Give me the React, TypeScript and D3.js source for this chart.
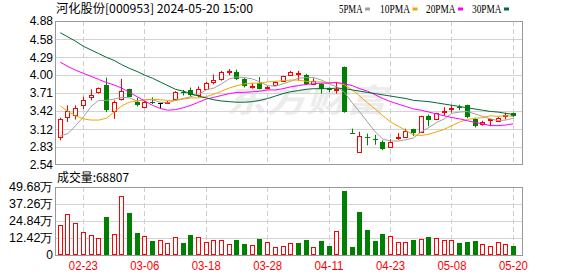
import React from 'react';
import * as d3 from 'd3';

const dates = [
  '02-20','02-21','02-22','02-23','02-26','02-27','02-28','02-29',
  '03-01','03-04','03-05','03-06','03-07','03-08','03-11','03-12','03-13','03-14','03-15','03-18','03-19','03-20','03-21','03-22','03-25','03-26','03-27','03-28','03-29',
  '04-01','04-02','04-03','04-08','04-09','04-10','04-11','04-12','04-15','04-16','04-17','04-18','04-19','04-22','04-23','04-24','04-25','04-26','04-29','04-30',
  '05-06','05-07','05-08','05-09','05-10','05-13','05-14','05-15','05-16','05-17','05-20'
];

const opens = [3.00,3.32,3.35,3.51,3.65,3.72,3.84,3.41,3.61,3.77,3.57,3.49,3.57,3.55,3.54,3.61,3.73,3.76,3.67,3.78,3.89,3.93,4.05,4.05,3.94,3.82,3.87,3.79,3.84,3.91,4.00,4.02,4.01,3.86,3.86,3.79,3.76,4.13,3.06,2.75,3.00,2.97,2.91,2.83,2.99,3.00,3.12,3.07,3.34,3.29,3.41,3.46,3.49,3.51,3.28,3.20,3.27,3.26,3.33,3.39];
const highs = [3.31,3.51,3.51,3.65,3.77,3.80,3.96,3.59,3.94,3.78,3.63,3.58,3.64,3.55,3.58,3.74,3.76,3.80,3.82,3.89,4.01,4.07,4.10,4.09,3.96,3.87,3.97,3.83,3.90,3.99,4.07,4.07,4.02,3.95,3.87,3.80,3.89,4.14,3.13,3.08,3.05,3.03,2.94,2.96,3.06,3.13,3.13,3.34,3.36,3.39,3.48,3.51,3.52,3.52,3.30,3.26,3.29,3.32,3.39,3.39];
const lows = [2.94,3.24,3.28,3.45,3.59,3.70,3.40,3.29,3.59,3.64,3.49,3.46,3.53,3.46,3.53,3.59,3.67,3.65,3.64,3.77,3.85,3.91,4.00,3.92,3.80,3.78,3.77,3.77,3.83,3.90,3.99,3.91,3.84,3.85,3.70,3.72,3.70,3.39,3.06,2.75,2.86,2.87,2.78,2.82,2.95,2.99,3.01,3.06,3.17,3.27,3.34,3.39,3.43,3.30,3.15,3.18,3.17,3.24,3.28,3.32];
const closes = [3.28,3.41,3.47,3.60,3.68,3.79,3.43,3.56,3.74,3.65,3.51,3.56,3.55,3.55,3.57,3.73,3.72,3.68,3.77,3.88,3.92,4.05,4.06,3.94,3.82,3.83,3.78,3.80,3.89,3.98,4.05,4.03,3.85,3.91,3.77,3.76,3.77,3.40,3.06,3.01,2.98,2.95,2.80,2.92,3.00,3.10,3.06,3.34,3.27,3.38,3.42,3.47,3.46,3.32,3.17,3.24,3.28,3.30,3.35,3.33];
const volumes = [218000,298000,233000,167000,143000,124000,279000,153000,429000,308000,162000,138000,104000,109000,89000,131000,87000,145000,131000,95000,109000,109000,80000,109000,80000,73000,116000,95000,58000,65000,85000,87000,109000,56000,102000,65000,175000,466000,58000,313000,182000,102000,153000,136000,95000,95000,109000,114000,131000,121000,109000,109000,87000,95000,102000,78000,65000,92000,78000,68807];

const ma5 = [3.01,3.05,3.18,3.32,3.49,3.59,3.59,3.61,3.64,3.63,3.58,3.60,3.60,3.56,3.55,3.59,3.62,3.65,3.69,3.76,3.79,3.86,3.94,3.97,3.96,3.94,3.89,3.83,3.82,3.86,3.90,3.95,3.96,3.96,3.92,3.86,3.81,3.72,3.55,3.40,3.24,3.08,2.96,2.93,2.93,2.95,2.98,3.08,3.15,3.23,3.29,3.38,3.40,3.41,3.37,3.33,3.29,3.26,3.27,3.30];
const ma10 = [3.50,3.41,3.34,3.29,3.27,3.27,3.30,3.40,3.50,3.56,3.58,3.60,3.61,3.60,3.59,3.59,3.61,3.63,3.63,3.65,3.69,3.74,3.79,3.83,3.86,3.87,3.87,3.89,3.90,3.91,3.92,3.92,3.90,3.89,3.89,3.88,3.88,3.84,3.76,3.66,3.55,3.45,3.34,3.24,3.17,3.10,3.03,3.02,3.04,3.08,3.12,3.18,3.24,3.28,3.30,3.31,3.34,3.33,3.34,3.33];
const ma20 = [4.21,4.14,4.08,4.03,3.98,3.93,3.88,3.84,3.79,3.72,3.65,3.58,3.51,3.46,3.43,3.44,3.47,3.51,3.56,3.61,3.64,3.67,3.70,3.72,3.72,3.73,3.74,3.76,3.76,3.78,3.81,3.83,3.85,3.86,3.87,3.87,3.88,3.86,3.83,3.78,3.74,3.68,3.62,3.57,3.53,3.49,3.45,3.43,3.40,3.37,3.34,3.31,3.29,3.26,3.23,3.21,3.18,3.18,3.19,3.21];
const ma30 = [4.69,4.62,4.55,4.47,4.41,4.35,4.29,4.24,4.17,4.11,4.06,4.00,3.95,3.89,3.83,3.77,3.74,3.70,3.66,3.63,3.60,3.58,3.57,3.56,3.56,3.57,3.59,3.62,3.66,3.70,3.73,3.75,3.77,3.78,3.78,3.78,3.79,3.78,3.76,3.74,3.72,3.70,3.68,3.66,3.64,3.62,3.59,3.58,3.57,3.55,3.53,3.51,3.49,3.47,3.45,3.43,3.41,3.40,3.38,3.36];

const priceTicks = [4.88, 4.58, 4.29, 4.00, 3.71, 3.42, 3.12, 2.83, 2.54];
const volTicks = [0, 124200, 248400, 372600, 496800];
const volTickLabels = ['0', '12.42万', '24.84万', '37.26万', '49.68万'];
const xTickDates = ['02-23', '03-06', '03-18', '03-28', '04-11', '04-23', '05-08', '05-20'];
const maNames = ['5PMA', '10PMA', '20PMA', '30PMA'];
const maColors = ['#a0a0a0', '#f5a500', '#ff00ff', '#006b35'];
const title = '河化股份[000953] 2024-05-20 15:00';
const volTitle = '成交量:68807';
const watermark = '东方财富';

const RED = '#ff0000';
const GREEN = '#008000';
const SANS = "'Liberation Sans', Arial, sans-serif";
const CJK = "'Noto Sans CJK SC', 'Liberation Sans', sans-serif";

export default function App() {
  const L = 55.5, R = 522.5;
  const PT = 21, PB = 165, VT = 187, VB = 255;

  const x = d3.scaleBand<string>().domain(dates).range([56.46, 517.26]).paddingInner(0.35).paddingOuter(0.175);
  const bw = x.bandwidth();
  const cx = (i: number) => (x(dates[i]) as number) + bw / 2;
  const px = (i: number) => Math.floor(cx(i)) + 0.5;
  const y = d3.scaleLinear().domain([2.54, 4.88]).range([PB, PT]);
  const yv = d3.scaleLinear().domain([0, 496800]).range([VB, VT]);

  const maLines = [ma5, ma10, ma20, ma30].map((arr) =>
    d3.line<number>().x((_, i) => cx(i)).y((v) => y(v))(arr) as string
  );

  const legendX = [339, 380, 426, 472];
  const legendW = [23.5, 30, 29.5, 29.5];

  return (
    <svg width={578} height={276} style={{ position: 'absolute', left: 0, top: 0, background: '#fff' }}>
      <rect x={0} y={0} width={578} height={276} fill="#fff" />
      {/* title */}
      <text x={56} y={12.5} fontFamily={CJK} fontSize={12} fill="#000" textLength={197} lengthAdjust="spacingAndGlyphs">{title}</text>
      {/* legend */}
      {maNames.map((n, k) => (
        <g key={n}>
          <text x={legendX[k]} y={12.5} fontFamily="'Liberation Serif', serif" fontSize={12.5} fill="#000" textLength={legendW[k]} lengthAdjust="spacingAndGlyphs">{n}</text>
          <rect x={legendX[k] + legendW[k] + 2.5} y={7.5} width={5} height={3} fill={maColors[k]} />
        </g>
      ))}

      {/* watermark */}
      <text x={226} y={112} fontFamily={CJK} fontSize={32} fontWeight="bold" fontStyle="italic" fill="#ececec" textLength={160} lengthAdjust="spacingAndGlyphs">{watermark}</text>

      {/* price grid */}
      {priceTicks.slice(1, -1).map((t) => (
        <line key={'pg' + t} x1={L} x2={R} y1={Math.round(y(t)) + 0.5} y2={Math.round(y(t)) + 0.5} stroke="#d3d3d3" />
      ))}
      {xTickDates.map((d) => {
        const xx = px(dates.indexOf(d));
        return (
          <g key={'vg' + d}>
            <line x1={xx} x2={xx} y1={PT} y2={PB} stroke="#cfcfcf" strokeDasharray="5,3" />
            <line x1={xx} x2={xx} y1={VT} y2={VB} stroke="#cfcfcf" strokeDasharray="5,3" />
          </g>
        );
      })}
      {priceTicks.map((t) => (
        <text key={'pl' + t} x={53} y={y(t)} dy="0.36em" textAnchor="end" fontFamily={SANS} fontSize={12} fill="#000">{t.toFixed(2)}</text>
      ))}

      {/* candles */}
      {dates.map((d, i) => {
        const o = opens[i], c = closes[i], h = highs[i], l = lows[i];
        const prev = i > 0 ? closes[i - 1] : o;
        const xx = px(i);
        const x0 = Math.floor(cx(i)) - 2;
        if (c > o) {
          const top = Math.round(y(c)), bot = Math.round(y(o));
          return (
            <g key={'c' + i}>
              <line x1={xx} x2={xx} y1={y(h)} y2={y(l)} stroke={RED} />
              <rect x={x0 + 0.5} y={top + 0.5} width={4} height={Math.max(bot - top, 1)} fill="#fff" stroke={RED} />
            </g>
          );
        } else if (c < o) {
          const top = Math.round(y(o)), bot = Math.round(y(c));
          return (
            <g key={'c' + i}>
              <line x1={xx} x2={xx} y1={y(h)} y2={y(l)} stroke={GREEN} />
              <rect x={x0} y={top} width={5} height={Math.max(bot - top, 1)} fill={GREEN} />
            </g>
          );
        }
        const col = c > prev ? RED : c < prev ? GREEN : '#000';
        const yy = Math.round(y(c)) + 0.5;
        return (
          <g key={'c' + i}>
            <line x1={xx} x2={xx} y1={y(h)} y2={y(l)} stroke={col} />
            <line x1={x0} x2={x0 + 5} y1={yy} y2={yy} stroke={col} />
          </g>
        );
      })}

      {/* moving averages */}
      {maLines.map((p, k) => (
        <path key={'ma' + k} d={p} fill="none" stroke={maColors[k]} strokeWidth={1} />
      ))}

      {/* price frame */}
      <rect x={L} y={PT + 0.5} width={R - L} height={PB - PT - 1} fill="none" stroke="#999" />

      {/* volume panel */}
      <text x={57} y={181.5} fontFamily={CJK} fontSize={12} fill="#000" textLength={72} lengthAdjust="spacingAndGlyphs">{volTitle}</text>
      {volTicks.slice(1, -1).map((t) => (
        <line key={'vgl' + t} x1={L} x2={R} y1={Math.round(yv(t)) + 0.5} y2={Math.round(yv(t)) + 0.5} stroke="#d3d3d3" />
      ))}
      {volTicks.map((t, k) => (
        <text key={'vl' + t} x={53} y={yv(t)} dy="0.36em" textAnchor="end" fontFamily={SANS} fontSize={12} fill="#000"
          {...(k > 0 ? { textLength: 44, lengthAdjust: 'spacingAndGlyphs' } : {})}>{volTickLabels[k]}</text>
      ))}
      {dates.map((d, i) => {
        const prev = i > 0 ? closes[i - 1] : opens[i];
        const up = closes[i] >= prev;
        const x0 = Math.floor(cx(i)) - 2;
        const top = Math.round(yv(volumes[i]));
        return up ? (
          <rect key={'v' + i} x={x0 + 0.5} y={top + 0.5} width={4} height={VB - top - 1} fill="#fff" stroke={RED} />
        ) : (
          <rect key={'v' + i} x={x0} y={top} width={5} height={VB - top} fill={GREEN} />
        );
      })}
      <rect x={L} y={VT + 0.5} width={R - L} height={VB - VT} fill="none" stroke="#999" />

      {/* x labels */}
      {xTickDates.map((d) => (
        <text key={'xl' + d} x={cx(dates.indexOf(d))} y={270} textAnchor="middle" fontFamily={SANS} fontSize={12} fill={RED} textLength={29} lengthAdjust="spacingAndGlyphs">{d}</text>
      ))}
    </svg>
  );
}
